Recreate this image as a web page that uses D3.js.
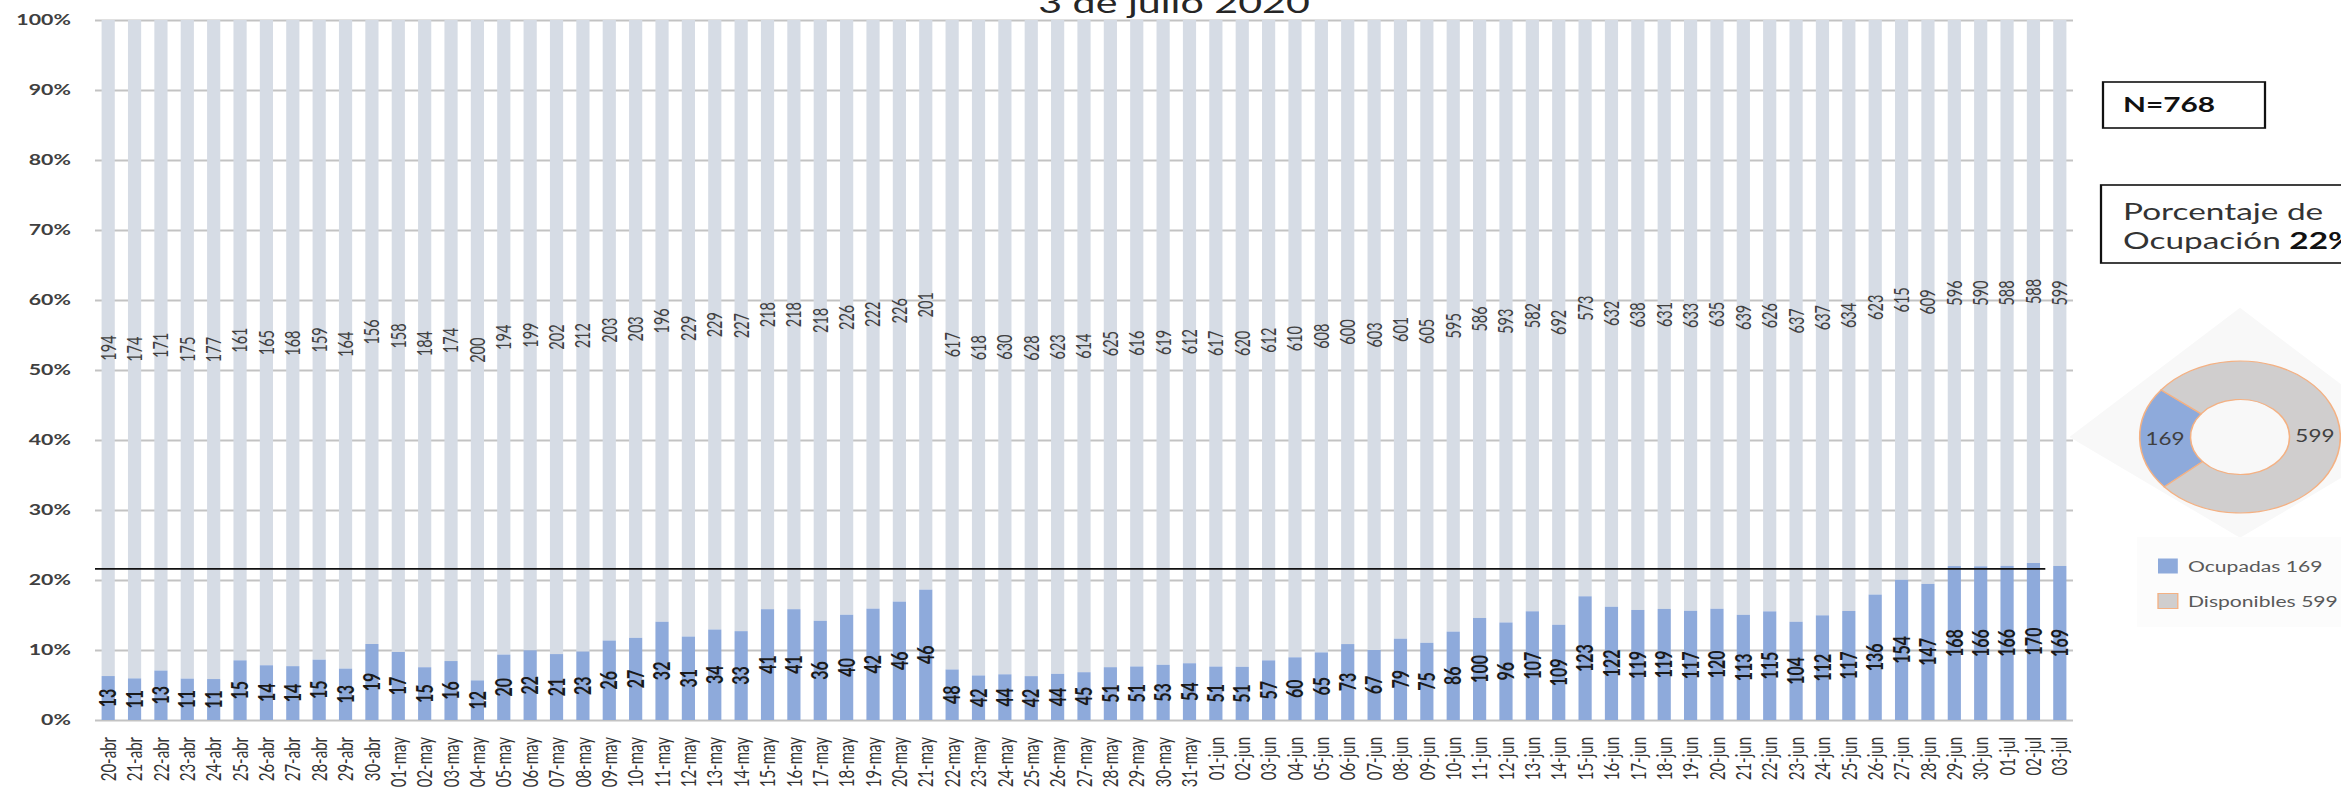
<!DOCTYPE html>
<html>
<head>
<meta charset="utf-8">
<script src="https://cdn.jsdelivr.net/npm/d3@7"></script>
<style>
  body { margin:0; background:#fff; }
  svg { display:block; font-family: Lato, "Open Sans", sans-serif; }
</style>
</head>
<body>
<div id="chart"></div>
<script>
// datos
var fechas = [
  "20-abr","21-abr","22-abr","23-abr","24-abr","25-abr","26-abr","27-abr","28-abr","29-abr","30-abr",
  "01-may","02-may","03-may","04-may","05-may","06-may","07-may","08-may","09-may","10-may",
  "11-may","12-may","13-may","14-may","15-may","16-may","17-may","18-may","19-may","20-may",
  "21-may","22-may","23-may","24-may","25-may","26-may","27-may","28-may","29-may","30-may","31-may",
  "01-jun","02-jun","03-jun","04-jun","05-jun","06-jun","07-jun","08-jun","09-jun","10-jun",
  "11-jun","12-jun","13-jun","14-jun","15-jun","16-jun","17-jun","18-jun","19-jun","20-jun",
  "21-jun","22-jun","23-jun","24-jun","25-jun","26-jun","27-jun","28-jun","29-jun","30-jun",
  "01-jul","02-jul","03-jul"
];
var ocupadas = [
  13,11,13,11,11,15,14,14,15,13,19,
  17,15,16,12,20,22,21,23,26,27,
  32,31,34,33,41,41,36,40,42,46,
  46,48,42,44,42,44,45,51,51,53,54,
  51,51,57,60,65,73,67,79,75,86,
  100,96,107,109,123,122,119,119,117,120,
  113,115,104,112,117,136,154,147,168,166,
  166,170,169
];
var disponibles = [
  194,174,171,175,177,161,165,168,159,164,156,
  158,184,174,200,194,199,202,212,203,203,
  196,229,229,227,218,218,218,226,222,226,
  201,617,618,630,628,623,614,625,616,619,612,
  617,620,612,610,608,600,603,601,605,595,
  586,593,582,692,573,632,638,631,633,635,
  639,626,637,637,634,623,615,609,596,590,
  588,588,599
];
var yTicks = [0,0.1,0.2,0.3,0.4,0.5,0.6,0.7,0.8,0.9,1];
var referencia = 0.216;      // linea horizontal negra
var finReferencia = "02-jul";
var titulo = "3 de julio 2020";
var totalCamas = "N=768";
var ocupacionTexto = ["Porcentaje de", "Ocupación ", "22%"];
var donutNombres = ["Ocupadas", "Disponibles"];
var donutValores = [169, 599];

var colores = {
    ocupadas: "#8eaadb",
    disponibles: "#d6dce5",
    donutGris: "#d0cece",
    donutBorde: "#f4b183",
    grid: "#c3c3c3"
};

var W = 2341, H = 793;
var SX = 1.42;   // el original esta estirado a lo ancho

var svg = d3.select("#chart").append("svg")
    .attr("width", W).attr("height", H);

var g = svg.append("g").attr("transform", "scale(" + SX + ",1)");

var x = d3.scaleBand()
    .domain(fechas)
    .range([95 / SX, 2073 / SX])
    .paddingInner(0.5)
    .paddingOuter(0.25);

var y = d3.scaleLinear().domain([0, 1]).range([720, 20]);

var filas = fechas.map(function(f, i){
    var t = ocupadas[i] + disponibles[i];
    return {fecha: f, ocu: ocupadas[i], dis: disponibles[i], p: ocupadas[i] / t};
});

// titulo (cortado arriba)
g.append("text")
    .attr("x", 1174 / SX).attr("y", 13)
    .attr("text-anchor", "middle")
    .style("font-size", "29px")
    .style("fill", "#262626")
    .text(titulo);

// eje y + grilla
var x0 = x.range()[0], x1 = x.range()[1];
var gy = g.append("g")
    .attr("transform", "translate(" + x0 + ",0)")
    .call(d3.axisLeft(y).tickValues(yTicks)
        .tickSize(-(x1 - x0))
        .tickPadding(17)
        .tickFormat(d3.format(".0%")));
gy.select(".domain").remove();
gy.selectAll(".tick line")
    .style("stroke", colores.grid)
    .style("stroke-width", 2);
gy.selectAll(".tick text")
    .style("font-family", "Lato, sans-serif")
    .style("font-size", "15px")
    .style("font-weight", "bold")
    .style("fill", "#404040");

// barras apiladas al 100%
var barras = g.append("g").selectAll("g.barra").data(filas).enter()
    .append("g").attr("class", "barra");

barras.append("rect")
    .attr("x", function(d){ return x(d.fecha); })
    .attr("width", x.bandwidth())
    .attr("y", function(d){ return y(1); })
    .attr("height", function(d){ return y(d.p) - y(1); })
    .style("fill", colores.disponibles);

barras.append("rect")
    .attr("x", function(d){ return x(d.fecha); })
    .attr("width", x.bandwidth())
    .attr("y", function(d){ return y(d.p); })
    .attr("height", function(d){ return y(0) - y(d.p); })
    .style("fill", colores.ocupadas);

// linea de referencia
g.append("line")
    .attr("x1", x0)
    .attr("x2", x(finReferencia) + x.bandwidth() * 1.4)
    .attr("y1", y(referencia)).attr("y2", y(referencia))
    .style("stroke", "#111")
    .style("stroke-width", 1.8);

// etiquetas de datos
var cx = function(d){ return x(d.fecha) + x.bandwidth() / 2; };

barras.append("text")
    .attr("transform", function(d){
        return "translate(" + cx(d) + "," + y(d.p / 2) + ") rotate(-90)";
    })
    .attr("text-anchor", "middle")
    .attr("dy", "0.36em")
    .style("font-size", "16px")
    .style("font-weight", "bold")
    .style("fill", "#1a1a1a")
    .text(function(d){ return d.ocu; });

barras.append("text")
    .attr("transform", function(d){
        return "translate(" + cx(d) + "," + y(d.p + (1 - d.p) / 2) + ") rotate(-90)";
    })
    .attr("text-anchor", "middle")
    .attr("dy", "0.36em")
    .style("font-size", "14.5px")
    .style("fill", "#404040")
    .text(function(d){ return d.dis; });

// eje x
var gx = g.append("g")
    .attr("transform", "translate(0," + y(0) + ")")
    .call(d3.axisBottom(x).tickSize(0));
gx.select(".domain").remove();
gx.selectAll(".tick text")
    .attr("transform", "rotate(-90)")
    .attr("x", -17).attr("y", 0)
    .attr("dy", "0.36em")
    .attr("text-anchor", "end")
    .style("font-family", "Lato, sans-serif")
    .style("font-size", "15px")
    .style("fill", "#333");

// cuadros de la derecha
g.append("rect")
    .attr("x", 2103 / SX).attr("y", 82)
    .attr("width", (2265 - 2103) / SX).attr("height", 46)
    .style("fill", "none").style("stroke", "#111").style("stroke-width", 1.6);
g.append("text")
    .attr("x", 2123 / SX).attr("y", 112)
    .style("font-size", "21px").style("font-weight", "bold").style("fill", "#111")
    .text(totalCamas);

g.append("rect")
    .attr("x", 2101 / SX).attr("y", 185)
    .attr("width", (2380 - 2101) / SX).attr("height", 78)
    .style("fill", "none").style("stroke", "#111").style("stroke-width", 1.6);
var l1 = g.append("text")
    .attr("x", 2123 / SX).attr("y", 220)
    .style("font-size", "23.5px").style("fill", "#333");
l1.append("tspan").text(ocupacionTexto[0]);
var l2 = g.append("text")
    .attr("x", 2123 / SX).attr("y", 249)
    .style("font-size", "23.5px").style("fill", "#333");
l2.append("tspan").text(ocupacionTexto[1]);
l2.append("tspan").style("font-weight", "bold").style("fill", "#111").text(ocupacionTexto[2]);

// dona
var DSX = 1.32, rOut = 76, rIn = 37.5;
var gd = svg.append("g")
    .attr("transform", "translate(2240,437) scale(" + DSX + ",1)");

var sombra = rOut * 1.7;
gd.append("polygon")
    .attr("points", [[0, -sombra], [sombra, 0], [0, sombra * 0.78], [-sombra, 0]].join(" "))
    .style("fill", "#f8f8f8");

var pie = d3.pie().sort(null)
    .startAngle(229 * Math.PI / 180)
    .endAngle(229 * Math.PI / 180 + 2 * Math.PI);
var arc = d3.arc().innerRadius(rIn).outerRadius(rOut);
var arcos = pie(donutValores);
var dColores = [colores.ocupadas, colores.donutGris];

gd.selectAll("path.slice").data(arcos).enter()
    .append("path").attr("class", "slice")
    .attr("d", arc)
    .style("fill", function(d, i){ return dColores[i]; })
    .style("stroke", colores.donutBorde)
    .style("stroke-width", 1.2);

gd.selectAll("text.slice").data(arcos).enter()
    .append("text").attr("class", "slice")
    .attr("transform", function(d){ return "translate(" + arc.centroid(d) + ")"; })
    .attr("text-anchor", "middle")
    .attr("dy", "0.36em")
    .style("font-size", "17px")
    .style("fill", "#404040")
    .text(function(d){ return d.data; });

// leyenda
var gl = svg.append("g").attr("transform", "scale(" + DSX + ",1)");
gl.append("rect")
    .attr("x", 2137 / DSX).attr("y", 537)
    .attr("width", (2345 - 2137) / DSX).attr("height", 90)
    .style("fill", "#fcfcfc");
var items = gl.selectAll("g.item").data(donutNombres).enter()
    .append("g").attr("class", "item")
    .attr("transform", function(d, i){ return "translate(0," + (566 + i * 35) + ")"; });
items.append("rect")
    .attr("x", 2158 / DSX).attr("y", -7.5)
    .attr("width", 15).attr("height", 15)
    .style("fill", function(d, i){ return dColores[i]; })
    .style("stroke", function(d, i){ return i ? colores.donutBorde : "none"; })
    .style("stroke-width", 1);
items.append("text")
    .attr("x", 2188 / DSX).attr("dy", "0.36em")
    .style("font-size", "16px")
    .style("fill", "#595959")
    .text(function(d, i){ return d + " " + donutValores[i]; });
</script>
</body>
</html>
